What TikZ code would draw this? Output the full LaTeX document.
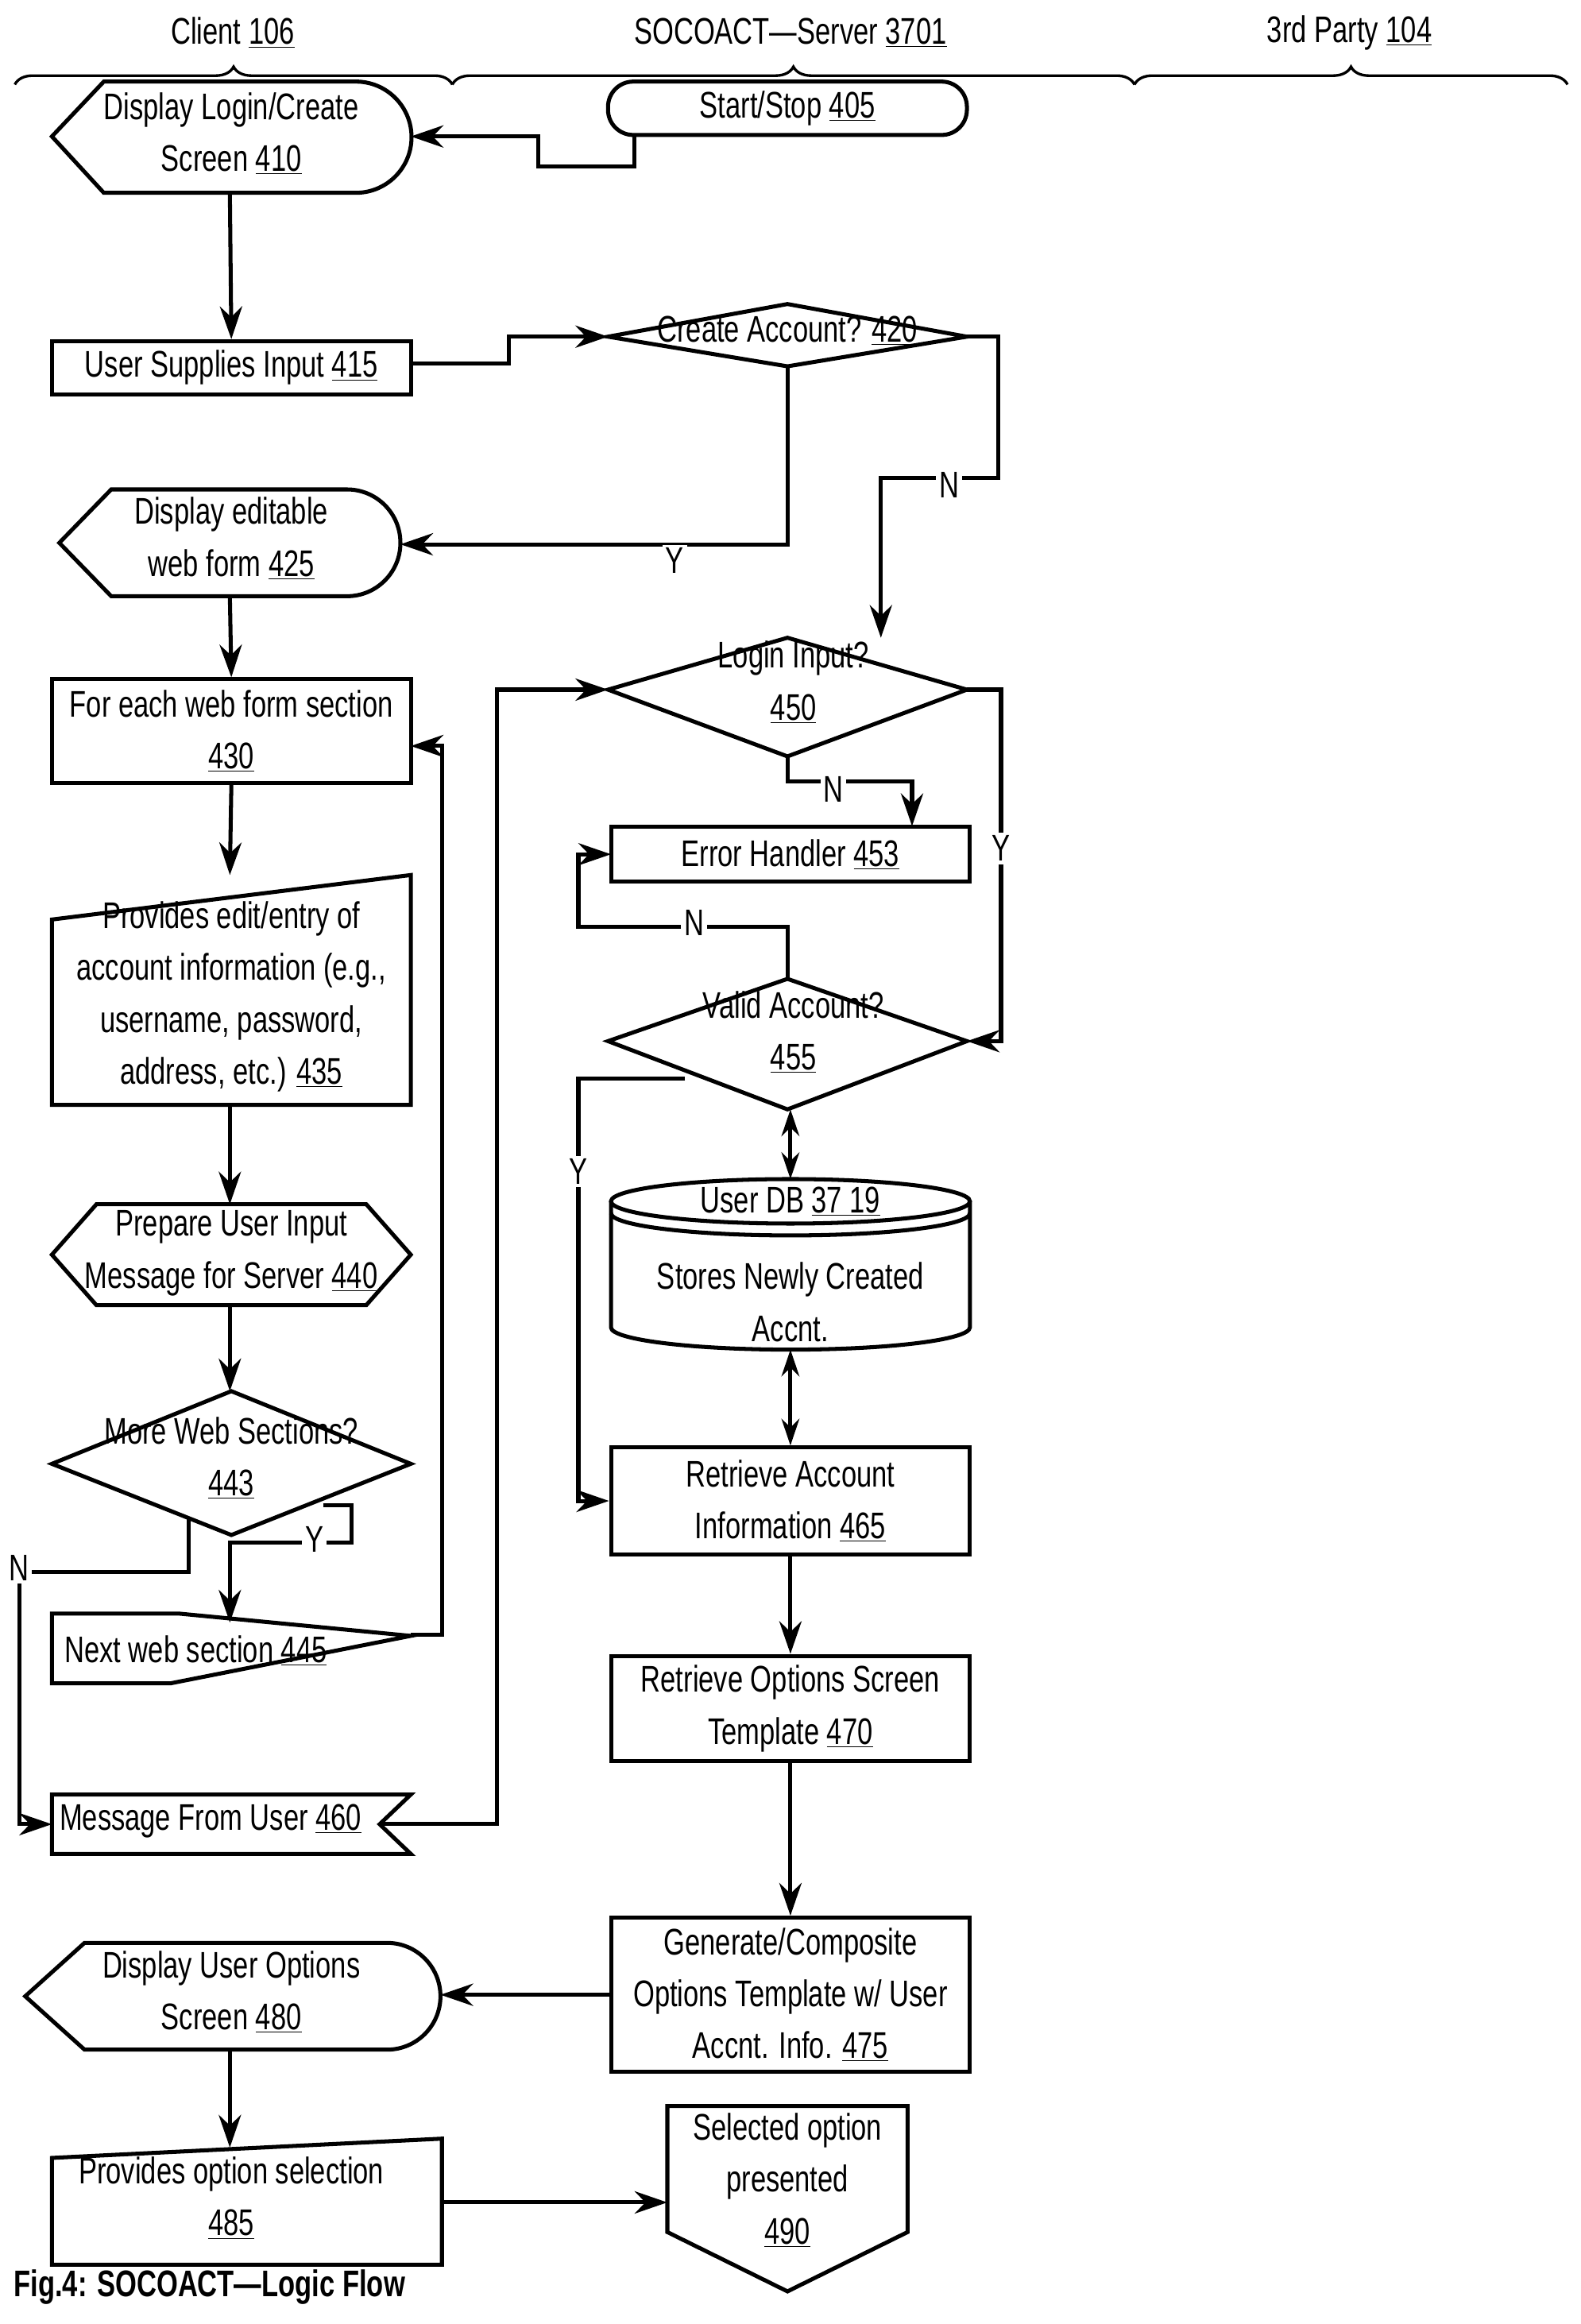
\documentclass[tikz,border=0pt]{standalone}
\usepackage{fontspec}
\setmainfont[FakeStretch=0.74]{Liberation Sans}
\usetikzlibrary{arrows.meta,decorations.pathreplacing}
\newcommand\nn[1]{\underline{#1}}
\begin{document}
\begin{tikzpicture}[x=1pt,y=-1pt,line width=2.7pt,
  every node/.style={font=\fontsize{25}{35}\selectfont,align=center,inner sep=0pt},
  arr/.style={-{Stealth[length=22pt,width=15pt]}},
  darr/.style={{Stealth[length=18pt,width=12pt]}-{Stealth[length=18pt,width=12pt]}},
  lab/.style={fill=white,inner sep=2pt},
  brace/.style={decorate,decoration={brace,amplitude=12pt},line width=1.8pt}]
\useasboundingbox (0,0) rectangle (1066,1567);
% headers
\draw[brace] (10,57) -- (305,57);
\draw[brace] (305,57) -- (765,57);
\draw[brace] (765,57) -- (1057,57);
\node (hc) at (157,22) {Client \nn{106}};
\node (hs) at (533,22) {SOCOACT---Server \nn{3701}};
\node (ht) at (910,22) {3rd Party \nn{104}};
% 405
\node[draw,rounded corners=17pt,minimum width=242pt,minimum height=36pt] (n405) at (531,73) {Start/Stop \nn{405}};
% 410 display
\draw (35,92) -- (70,55) -- (240,55) arc[start angle=90,end angle=-90,radius=37.5pt] -- (70,130) -- cycle;
\node (n410) at (156,90) {Display Login/Create\\Screen \nn{410}};
\draw[arr] (428,91) -- (428,112) -- (363,112) -- (363,92) -- (277,92);
% 415
\node[draw,minimum width=242pt,minimum height=36pt] (n415) at (156,248) {User Supplies Input \nn{415}};
\draw[arr] (155,130) -- (n415.north);
% 420
\draw (410,227) -- (531,205) -- (652,227) -- (531,247) -- cycle;
\node (n420) at (531,223) {Create Account? \nn{420}};
\draw[arr] (277,245) -- (343,245) -- (343,227) -- (410,227);
% 425 display
\draw (40,366) -- (75,330) -- (234,330) arc[start angle=90,end angle=-90,radius=36pt] -- (75,402) -- cycle;
\node (n425) at (156,363) {Display editable\\web form \nn{425}};
\draw[arr] (531,247) -- (531,367) -- (270,367);
\node[lab] at (455,378) {Y};
\draw[arr] (652,227) -- (673,227) -- (673,322) -- (594,322) -- (594,430);
\node[lab] at (640,327) {N};
% 430
\node[draw,minimum width=242pt,minimum height=70pt] (n430) at (156,493) {For each web form section\\\nn{430}};
\draw[arr] (155,402) -- (n430.north);
% 435 manual input
\draw (35,620) -- (277,590) -- (277,745) -- (35,745) -- cycle;
\node (n435) at (156,672) {Provides edit/entry of\\account information (e.g.,\\username, password,\\address, etc.) \nn{435}};
\draw[arr] (n430.south) -- (155,590);
% 440 hexagon
\draw (35,846) -- (65,812) -- (247,812) -- (277,846) -- (247,880) -- (65,880) -- cycle;
\node (n440) at (156,845) {Prepare User Input\\Message for Server \nn{440}};
\draw[arr] (155,745) -- (155,812);
% 443 diamond
\draw (35,987) -- (156,938) -- (277,987) -- (156,1035) -- cycle;
\node (n443) at (156,983) {More Web Sections?\\\nn{443}};
\draw[arr] (155,880) -- (155,938);
% 445
\draw (35,1088) -- (121,1088) -- (277,1103) -- (115,1135) -- (35,1135) -- cycle;
\node (n445) at (132,1113) {Next web section \nn{445}};
\draw[arr] (218,1015) -- (237,1015) -- (237,1040) -- (155,1040) -- (155,1094);
\node[lab] at (212,1038) {Y};
\draw[arr] (277,1102) -- (298,1102) -- (298,503) -- (277,503);
% 460
\draw (35,1210) -- (277,1210) -- (256,1230) -- (277,1250) -- (35,1250) -- cycle;
\node (n460) at (142,1228) {Message From User \nn{460}};
\draw[arr] (127,1023) -- (127,1060) -- (13,1060) -- (13,1230) -- (35,1230);
\node[lab,fill=white] at (13,1057) {N};
% 450
\draw (410,465) -- (531,430) -- (652,465) -- (531,510) -- cycle;
\node (n450) at (535,460) {Login Input?\\\nn{450}};
\draw[arr] (256,1230) -- (335,1230) -- (335,465) -- (410,465);
% 453
\node[draw,minimum width=242pt,minimum height=37pt] (n453) at (533,576) {Error Handler \nn{453}};
\draw[arr] (531,510) -- (531,527) -- (615,527) -- (615,557);
\node[lab] at (562,532) {N};
% 455
\draw (410,702) -- (531,660) -- (652,702) -- (531,748) -- cycle;
\node (n455) at (535,696) {Valid Account?\\\nn{455}};
\draw[arr] (652,465) -- (675,465) -- (675,702) -- (652,702);
\node[lab] at (675,572) {Y};
\draw[arr] (531,660) -- (531,625) -- (390,625) -- (390,576) -- (412,576);
\node[lab] at (468,622) {N};
% DB
\draw (412,810) -- (412,895) arc[start angle=180,end angle=360,x radius=121pt,y radius=15pt] -- (654,810);
\draw (533,810) ellipse[x radius=121pt,y radius=15pt];
\draw (412,818) arc[start angle=180,end angle=360,x radius=121pt,y radius=15pt];
\node (ndb) at (533,810) {User DB \nn{37 19}};
\node at (533,878) {Stores Newly Created\\Accnt.};
\draw[darr] (533,748) -- (533,795);
% 465
\node[draw,minimum width=242pt,minimum height=72pt] (n465) at (533,1012) {Retrieve Account\\Information \nn{465}};
\draw[darr] (533,910) -- (n465.north);
\draw[arr] (462,727) -- (390,727) -- (390,1012) -- (n465.west);
\node[lab] at (390,790) {Y};
% 470
\node[draw,minimum width=242pt,minimum height=71pt] (n470) at (533,1152) {Retrieve Options Screen\\Template \nn{470}};
\draw[arr] (n465.south) -- (n470.north);
% 475
\node[draw,minimum width=242pt,minimum height=104pt] (n475) at (533,1345) {Generate/Composite\\Options Template w/ User\\Accnt. Info. \nn{475}};
\draw[arr] (n470.south) -- (n475.north);
% 480
\draw (17,1346) -- (57,1310) -- (261,1310) arc[start angle=90,end angle=-90,radius=36pt] -- (57,1382) -- cycle;
\node (n480) at (156,1343) {Display User Options\\Screen \nn{480}};
\draw[arr] (n475.west) -- (297,1345);
% 485
\draw (35,1455) -- (298,1442) -- (298,1527) -- (35,1527) -- cycle;
\node (n485) at (156,1482) {Provides option selection\\\nn{485}};
\draw[arr] (155,1382) -- (155,1448);
% 490
\draw (450,1420) -- (612,1420) -- (612,1505) -- (531,1545) -- (450,1505) -- cycle;
\node (n490) at (531,1470) {Selected option\\presented\\\nn{490}};
\draw[arr] (298,1485) -- (450,1485);
% caption
\node[anchor=west,font=\fontsize{25}{30}\selectfont\bfseries] (cap) at (8,1542) {Fig.4: SOCOACT---Logic Flow};
\end{tikzpicture}
\end{document}
